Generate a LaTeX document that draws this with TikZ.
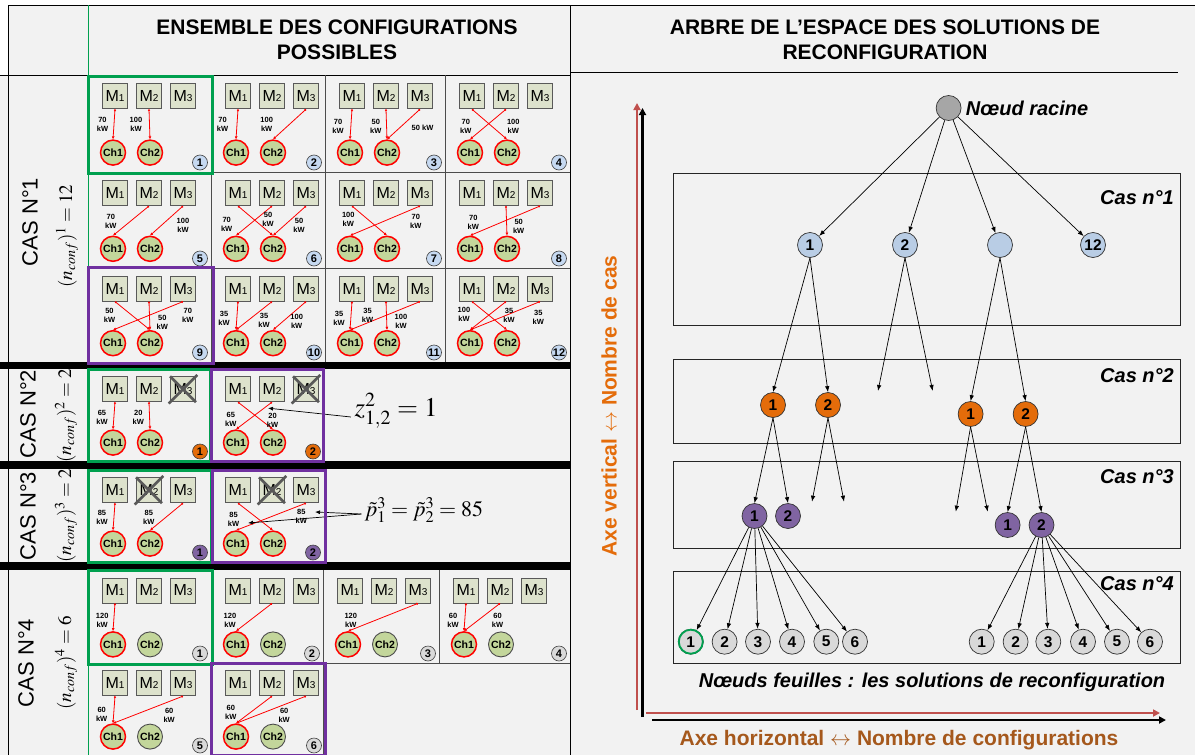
\documentclass[tikz,border=0pt]{standalone}
\usepackage{mathptmx}
\usepackage[no-math]{fontspec}
\setmainfont{Liberation Sans}
\usepackage{xcolor}
\usetikzlibrary{positioning, arrows.meta, calc}
\definecolor{fond}{HTML}{F2F2F2}
\definecolor{machfond}{HTML}{DDE2CC}
\definecolor{chfond}{HTML}{C3D69B}
\definecolor{rouge}{HTML}{FF0000}
\definecolor{bleucase}{HTML}{C6D9F1}
\definecolor{bleunoeud}{HTML}{B9CDE5}
\definecolor{orangec}{HTML}{E46C0A}
\definecolor{violetc}{HTML}{8064A2}
\definecolor{grisf}{HTML}{D9D9D9}
\definecolor{racinec}{HTML}{A6A6A6}
\definecolor{vertsel}{HTML}{00A04F}
\definecolor{violetsel}{HTML}{7030A0}
\definecolor{axerouge}{HTML}{C0504D}
\definecolor{brunaxe}{HTML}{A5581C}
\newcommand{\Mi}[1]{M{\fontsize{10}{10}\selectfont #1}}
% one configuration cell: name, x, y, width, height, number, number colour, style of Ch2
\newcommand{\cellule}[8]{%
  \node[mach] (#1M1) at (#2+27,#3+0.22*#5) {\Mi{1}};
  \node[mach] (#1M2) at (#2+61,#3+0.22*#5) {\Mi{2}};
  \node[mach] (#1M3) at (#2+95,#3+0.22*#5) {\Mi{3}};
  \node[charge] (#1C1) at (#2+25,#3+0.8*#5) {Ch1};
  \node[#8] (#1C2) at (#2+62,#3+0.8*#5) {Ch2};
  \node[numc, fill=#7] (#1N) at (#2+#4-11,#3+#5-9.5) {#6};}

\begin{document}
\begin{tikzpicture}[x=1pt, y=-1pt,
  mach/.style={rectangle, draw=black!65, fill=machfond, line width=0.8pt, minimum size=25pt,
               inner sep=0pt, font=\fontsize{16}{16}\selectfont},
  charge/.style={circle, draw=rouge, fill=chfond, line width=1.5pt, minimum size=25pt,
                 inner sep=0pt, font=\bfseries\fontsize{10.5}{10.5}\selectfont},
  chlibre/.style={charge, draw=black!70, line width=0.9pt},
  numc/.style={circle, draw=black!75, line width=0.6pt, minimum size=15pt, inner sep=0pt,
               font=\bfseries\fontsize{11}{11}\selectfont},
  kw/.style={align=center, inner sep=0pt, font=\bfseries\fontsize{7.5}{9}\selectfont},
  lien/.style={rouge, line width=0.8pt, {Circle[length=2pt]}-{Latex[length=3pt,width=3pt]}},
  croix/.style={black!65, line width=2.5pt, shorten <=-2pt, shorten >=-2pt},
  grille/.style={black!70, line width=0.5pt},
  selv/.style={draw=vertsel, line width=3pt},
  selp/.style={draw=violetsel, line width=3pt},
  entete/.style={align=center, font=\bfseries\fontsize{21}{25}\selectfont},
  caslab/.style={rotate=90, font=\fontsize{22}{22}\selectfont},
  formule/.style={rotate=90, font=\fontsize{19}{19}\selectfont},
  fleche/.style={-{Latex[length=5pt,width=4pt]}, line width=0.7pt},
  noeud/.style={circle, draw=black!80, line width=0.7pt, minimum size=25pt, inner sep=0pt,
                font=\bfseries\fontsize{15.5}{15.5}\selectfont},
  fl/.style={-{Latex[length=6pt,width=4.5pt]}, line width=0.7pt},
  casbox/.style={draw=black!85, line width=0.7pt},
  cas/.style={anchor=east, inner sep=0pt, font=\bfseries\itshape\fontsize{20}{20}\selectfont},
  titre/.style={font=\bfseries\itshape\fontsize{20}{20}\selectfont},
  axe/.style={line width=2.6pt, -{Triangle[length=7pt,width=7pt]}},
]
\useasboundingbox (0,0) rectangle (1195,755);
% --- background and frame ---
\fill[fond] (8,5) rectangle (1195,755);
\fill[fond] (0,75) rectangle (8,755);
\draw[line width=0.8pt] (8,5) -- (1195,5);
\draw[line width=0.8pt] (8,5) -- (8,755);
\draw[line width=0.8pt] (0,75.5) -- (570,75.5);
\draw[line width=0.8pt] (570,72.5) -- (1178,72.5);
\draw[line width=0.8pt] (570,5) -- (570,755);
\draw[vertsel, line width=0.8pt] (88,5) -- (88,755);
\node[entete] (H1) at (337,40) {ENSEMBLE DES CONFIGURATIONS\\POSSIBLES};
\node[entete] (H2) at (885,40) {ARBRE DE L’ESPACE DES SOLUTIONS DE\\RECONFIGURATION};
% --- grid of the cells ---
\draw[grille] (211,75) -- (211,362) (325,75) -- (325,362) (445,75) -- (445,362);
\draw[grille] (88,172) -- (570,172) (88,268) -- (570,268);
\draw[grille] (211,369) -- (211,461) (324,369) -- (324,461);
\draw[grille] (211,470) -- (211,562) (324,470) -- (324,562);
\draw[grille] (211,570) -- (211,755) (323,570) -- (323,755) (439,570) -- (439,663);
\draw[grille] (88,663) -- (570,663);
\fill (0,362) rectangle (570,369);
\fill (0,461) rectangle (570,469);
\fill (0,562) rectangle (570,570);
% --- case labels ---
\node[caslab] (L1) at (30,222) {CAS N°1};
\node[formule] (F1) at (67,236) {$(n_{conf})^{1}=12$};
\node[caslab] (L2) at (28,414) {CAS N°2};
\node[formule] (F2) at (66,416) {$(n_{conf})^{2}=2$};
\node[caslab] (L3) at (28,516) {CAS N°3};
\node[formule] (F3) at (66,516) {$(n_{conf})^{3}=2$};
\node[caslab] (L4) at (26,663) {CAS N°4};
\node[formule] (F4) at (66,663) {$(n_{conf})^{4}=6$};
% --- CAS N°1 ---
\cellule{u1}{88}{75}{123}{97}{1}{bleucase}{charge}
\cellule{u2}{211}{75}{114}{97}{2}{bleucase}{charge}
\cellule{u3}{325}{75}{120}{97}{3}{bleucase}{charge}
\cellule{u4}{445}{75}{125}{97}{4}{bleucase}{charge}
\cellule{u5}{88}{172}{123}{96}{5}{bleucase}{charge}
\cellule{u6}{211}{172}{114}{96}{6}{bleucase}{charge}
\cellule{u7}{325}{172}{120}{96}{7}{bleucase}{charge}
\cellule{u8}{445}{172}{125}{96}{8}{bleucase}{charge}
\cellule{u9}{88}{268}{123}{94}{9}{bleucase}{charge}
\cellule{u10}{211}{268}{114}{94}{10}{bleucase}{charge}
\cellule{u11}{325}{268}{120}{94}{11}{bleucase}{charge}
\cellule{u12}{445}{268}{125}{94}{12}{bleucase}{charge}
\draw[lien] (u1M1.south) -- (u1C1.north); \draw[lien] (u1M2.south) -- (u1C2.north);
\node[kw] (u1a) at (102.5,124.5) {70\\kW}; \node[kw] (u1b) at (136,124.5) {100\\kW};
\draw[lien] (u2M1.south) -- (u2C1.north); \draw[lien] (u2M3.south) -- (u2C2.north);
\node[kw] (u2a) at (222.5,124.5) {70\\kW}; \node[kw] (u2b) at (266.7,124.5) {100\\kW};
\draw[lien] (u3M1.south) -- (u3C1.north); \draw[lien] (u3M2.south) -- (u3C2.north);
\draw[lien] (u3M3.south) -- (u3C2.north);
\node[kw] (u3a) at (338,126.7) {70\\kW}; \node[kw] (u3b) at (375.8,126) {50\\kW};
\node[kw] (u3c) at (422.5,128.3) {50 kW};
\draw[lien] (u4M1.south) -- (u4C2.north); \draw[lien] (u4M2.south) -- (u4C1.north);
\node[kw] (u4a) at (465.8,126.8) {70\\kW}; \node[kw] (u4b) at (513.3,126.8) {100\\kW};
\draw[lien] (u5M2.south) -- (u5C1.north); \draw[lien] (u5M3.south) -- (u5C2.north);
\node[kw] (u5a) at (110.8,221.3) {70\\kW}; \node[kw] (u5b) at (183,225.7) {100\\kW};
\draw[lien] (u6M1.south) -- (u6C2.north); \draw[lien] (u6M2.south) -- (u6C1.north);
\draw[lien] (u6M3.south) -- (u6C2.north);
\node[kw] (u6a) at (226.7,224) {70\\kW}; \node[kw] (u6b) at (268,219.3) {50\\kW};
\node[kw] (u6c) at (299,225) {50\\kW};
\draw[lien] (u7M1.south) -- (u7C2.north); \draw[lien] (u7M3.south) -- (u7C1.north);
\node[kw] (u7a) at (348.3,219) {100\\kW}; \node[kw] (u7b) at (415.8,221.7) {70\\kW};
\draw[lien] (u8M2.south) -- (u8C2.north); \draw[lien] (u8M3.south) -- (u8C1.north);
\node[kw] (u8a) at (473.3,222) {70\\kW}; \node[kw] (u8b) at (518.7,226.7) {50\\kW};
\draw[lien] (u9M1.south) -- (u9C2.north); \draw[lien] (u9M2.south) -- (u9C2.north);
\draw[lien] (u9M3.south) -- (u9C1.north);
\node[kw] (u9a) at (109.5,315) {50\\kW}; \node[kw] (u9b) at (162.3,322.7) {50\\kW};
\node[kw] (u9c) at (187.8,315) {70\\kW};
\draw[lien] (u10M1.south) -- (u10C1.north); \draw[lien] (u10M2.south) -- (u10C1.north);
\draw[lien] (u10M3.south) -- (u10C2.north);
\node[kw] (u10a) at (224,318.3) {35\\kW}; \node[kw] (u10b) at (264,320.7) {35\\kW};
\node[kw] (u10c) at (296.7,321) {100\\kW};
\draw[lien] (u11M1.south) -- (u11C1.north); \draw[lien] (u11M2.south) -- (u11C2.north);
\draw[lien] (u11M3.south) -- (u11C1.north);
\node[kw] (u11a) at (339,318.3) {35\\kW}; \node[kw] (u11b) at (367.5,315) {35\\kW};
\node[kw] (u11c) at (401,321.7) {100\\kW};
\draw[lien] (u12M1.south) -- (u12C2.north); \draw[lien] (u12M2.south) -- (u12C1.north);
\draw[lien] (u12M3.south) -- (u12C1.north);
\node[kw] (u12a) at (464,314.3) {100\\kW}; \node[kw] (u12b) at (509,315.7) {35\\kW};
\node[kw] (u12c) at (538.3,317) {35\\kW};
% --- CAS N°2 ---
\cellule{d1}{88}{369}{123}{92}{1}{orangec}{charge}
\cellule{d2}{211}{369}{113}{92}{2}{orangec}{charge}
\draw[croix] (d1M3.north west) -- (d1M3.south east) (d1M3.north east) -- (d1M3.south west);
\draw[croix] (d2M3.north west) -- (d2M3.south east) (d2M3.north east) -- (d2M3.south west);
\draw[lien] (d1M1.south) -- (d1C1.north); \draw[lien] (d1M2.south) -- (d1C2.north);
\node[kw] (d1a) at (102,417.7) {65\\kW}; \node[kw] (d1b) at (138.3,417.7) {20\\kW};
\draw[lien] (d2M1.south) -- (d2C2.north); \draw[lien] (d2M2.south) -- (d2C1.north);
\node[kw] (d2a) at (230.8,419.3) {65\\kW}; \node[kw] (d2b) at (272.5,420) {20\\kW};
\node[font=\fontsize{27}{27}\selectfont] (zeq) at (396,411) {$z_{1,2}^{2}=1$};
\coordinate (zcible) at ($(d2M2.south)+(-4,6)$);
\draw[fleche] ([yshift=-6pt]zeq.west) -- (zcible);
% --- CAS N°3 ---
\cellule{t1}{88}{470}{123}{92}{1}{violetc}{charge}
\cellule{t2}{211}{470}{113}{92}{2}{violetc}{charge}
\draw[croix] (t1M2.north west) -- (t1M2.south east) (t1M2.north east) -- (t1M2.south west);
\draw[croix] (t2M2.north west) -- (t2M2.south east) (t2M2.north east) -- (t2M2.south west);
\draw[lien] (t1M1.south) -- (t1C1.north); \draw[lien] (t1M3.south) -- (t1C2.north);
\node[kw] (t1a) at (102,517.5) {85\\kW}; \node[kw] (t1b) at (148.8,517.5) {85\\kW};
\draw[lien] (t2M1.south) -- (t2C2.north); \draw[lien] (t2M3.south) -- (t2C1.north);
\node[kw] (t2a) at (233.5,519) {85\\kW}; \node[kw] (t2b) at (301.3,516.7) {85\\kW};
\node[font=\fontsize{22}{22}\selectfont] (peq) at (424,510) {$\tilde{p}_{1}^{3}=\tilde{p}_{2}^{3}=85$};
\coordinate (pcible1) at (315,512);
\coordinate (pcible2) at (248,523);
\draw[fleche] ([yshift=-4pt]peq.west) -- (pcible1);
\draw[fleche] ([yshift=-4pt]peq.west) -- (pcible2);
% --- CAS N°4 ---
\cellule{q1}{88}{570}{123}{93}{1}{grisf}{chlibre}
\cellule{q2}{211}{570}{112}{93}{2}{grisf}{chlibre}
\cellule{q3}{323}{570}{116}{93}{3}{grisf}{chlibre}
\cellule{q4}{439}{570}{131}{93}{4}{grisf}{chlibre}
\cellule{q5}{88}{663}{123}{92}{5}{grisf}{chlibre}
\cellule{q6}{211}{663}{114}{92}{6}{grisf}{chlibre}
\draw[lien] (q1M1.south) -- (q1C1.north);
\node[kw] (q1a) at (102.2,620) {120\\kW};
\draw[lien] (q2M2.south) -- (q2C1.north);
\node[kw] (q2a) at (230,620) {120\\kW};
\draw[lien] (q3M3.south) -- (q3C1.north);
\node[kw] (q3a) at (350.8,620) {120\\kW};
\draw[lien] (q4M1.south) -- (q4C1.north); \draw[lien] (q4M2.south) -- (q4C1.north);
\node[kw] (q4a) at (453,620) {60\\kW}; \node[kw] (q4b) at (497.5,620) {60\\kW};
\draw[lien] (q5M1.south) -- (q5C1.north); \draw[lien] (q5M3.south) -- (q5C1.north);
\node[kw] (q5a) at (101.7,714.3) {60\\kW}; \node[kw] (q5b) at (169.2,715.7) {60\\kW};
\draw[lien] (q6M2.south) -- (q6C1.north); \draw[lien] (q6M3.south) -- (q6C1.north);
\node[kw] (q6a) at (230.8,712.7) {60\\kW}; \node[kw] (q6b) at (284.2,715.7) {60\\kW};
% --- selected configurations ---
\draw[selv] (88,76) rectangle (212,173);
\draw[selp] (88,267) rectangle (213,363);
\draw[selv] (88,369) rectangle (210,461);
\draw[selp] (211,369) rectangle (323,461);
\draw[selv] (88,470) rectangle (211,562);
\draw[selp] (212,470) rectangle (325,562);
\draw[selv] (88,570) rectangle (212,664);
\draw[selp] (211,663) rectangle (325,755);
% --- tree: case boxes ---
\draw[casbox] (673.6,173) rectangle (1180,325);
\draw[casbox] (673.6,359) rectangle (1180,443);
\draw[casbox] (673.6,461) rectangle (1180,548);
\draw[casbox] (673.6,571) rectangle (1180,663);
\node[cas] (K1) at (1174,198) {Cas n°1};
\node[cas] (K2) at (1174,376) {Cas n°2};
\node[cas] (K3) at (1174,477) {Cas n°3};
\node[cas] (K4) at (1174,584) {Cas n°4};
% --- tree: nodes ---
\node[noeud, fill=racinec] (R) at (948.6,108) {};
\node[titre, right=1pt of R] (Rlab) {Nœud racine};
\node[noeud, fill=bleunoeud] (A1) at (810,245) {1};
\node[noeud, fill=bleunoeud] (A2) at (905,245) {2};
\node[noeud, fill=bleunoeud] (A3) at (1000,245) {};
\node[noeud, fill=bleunoeud] (A12) at (1093,245) {12};
\draw[fl] (R) -- (A1); \draw[fl] (R) -- (A2); \draw[fl] (R) -- (A3); \draw[fl] (R) -- (A12);
\node[noeud, fill=orangec] (B1) at (773,405) {1};
\node[noeud, fill=orangec] (B2) at (828,405) {2};
\node[noeud, fill=orangec] (B3) at (970.6,414) {1};
\node[noeud, fill=orangec] (B4) at (1025.6,414) {2};
\draw[fl] (A1.south) -- (B1.north); \draw[fl] (A1.south) -- (B2.north);
\draw[fl] (A3.south) -- (B3.north); \draw[fl] (A3.south) -- (B4.north);
\coordinate (A2g) at (878,391); \coordinate (A2d) at (932.7,391);
\draw[fl] (A2.south) -- (A2g); \draw[fl] (A2.south) -- (A2d);
\node[noeud, fill=violetc] (C1) at (754.5,516) {1};
\node[noeud, fill=violetc] (C2) at (788,516) {2};
\node[noeud, fill=violetc] (C3) at (1007.6,525) {1};
\node[noeud, fill=violetc] (C4) at (1041.5,525) {2};
\draw[fl] (B1.south) -- (C1.north); \draw[fl] (B1.south) -- (C2.north);
\draw[fl] (B4.south) -- (C3.north); \draw[fl] (B4.south) -- (C4.north);
\coordinate (B2g) at (812,501.7); \coordinate (B2d) at (844,501.7);
\draw[fl] (B2.south) -- (B2g); \draw[fl] (B2.south) -- (B2d);
\coordinate (B3g) at (955.8,511.7); \coordinate (B3d) at (987.7,511.7);
\draw[fl] (B3.south) -- (B3g); \draw[fl] (B3.south) -- (B3d);
% leaves
\foreach \i/\x in {1/690.8, 2/724.6, 3/758, 4/792, 5/826.3, 6/855}
  \node[noeud, fill=grisf] (G\i) at (\x,641.7) {\i};
\foreach \i/\x in {1/981.7, 2/1015.6, 3/1048.3, 4/1083, 5/1117, 6/1150}
  \node[noeud, fill=grisf] (D\i) at (\x,641.7) {\i};
\draw[vertsel, line width=1.8pt] (G1) circle (12pt);
\foreach \i in {1,...,6} {\draw[fl] (C1) -- (G\i); \draw[fl] (C4) -- (D\i);}
\node[titre] (feuilles) at (932,682) {Nœuds feuilles : les solutions de reconfiguration};
% --- axes ---
\coordinate (VR0) at (637,710); \coordinate (VR1) at (637,103);
\coordinate (HR0) at (646,713); \coordinate (HR1) at (1160,713);
\coordinate (VN0) at (642.5,717); \coordinate (VN1) at (642.5,108);
\coordinate (HN0) at (652,720); \coordinate (HN1) at (1166,720);
\draw[axe, axerouge] (VR0) -- (VR1); \draw[axe, axerouge] (HR0) -- (HR1);
\draw[axe] (VN0) -- (VN1); \draw[axe] (HN0) -- (HN1);
\node[rotate=90, orangec, font=\bfseries\fontsize{21}{21}\selectfont] (AV) at (609,406)
  {Axe vertical $\leftrightarrow$ Nombre de cas};
\node[brunaxe, font=\bfseries\fontsize{21}{21}\selectfont] (AH) at (899,740)
  {Axe horizontal $\leftrightarrow$ Nombre de configurations};
\end{tikzpicture}
\end{document}
